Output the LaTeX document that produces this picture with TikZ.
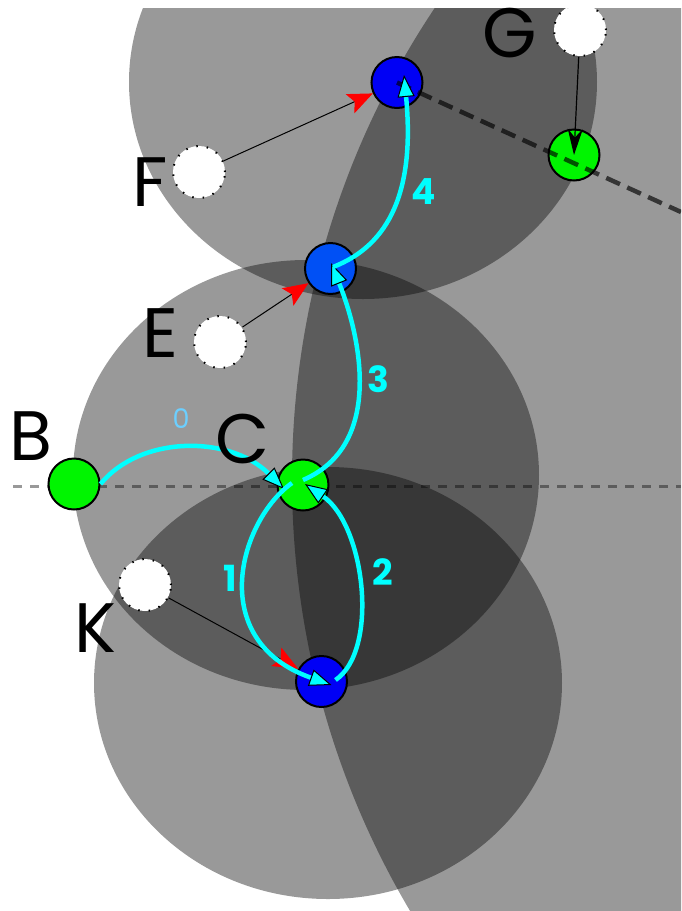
\documentclass[tikz,border=0pt]{standalone}
\usepackage{fontspec}
\setmainfont{Poppins}
\usetikzlibrary{arrows.meta,positioning}
\definecolor{goalgreen}{HTML}{00F500}
\definecolor{deepblue}{HTML}{0000F5}
\definecolor{midblue}{HTML}{0050F5}
\definecolor{trailcyan}{HTML}{00FFFF}
\definecolor{faintblue}{HTML}{6CCFFF}
\definecolor{tipred}{HTML}{FF0000}
\tikzset{
  zone/.style={fill=black, fill opacity=0.4},
  agent/.style={circle, draw=black, line width=2pt, minimum size=51pt, inner sep=0pt},
  goal/.style={agent, fill=goalgreen},
  reach/.style={agent, fill=deepblue},
  ghost/.style={circle, draw=black, fill=white, line width=2pt,
    dash pattern=on 1.5pt off 9pt, minimum size=52pt, inner sep=0pt},
  letter/.style={font=\fontsize{70}{70}\selectfont, inner sep=0pt},
  steplabel/.style={font=\bfseries\fontsize{36}{36}\selectfont, text=trailcyan, inner sep=0pt},
  trail/.style={draw=trailcyan, line width=4.5pt,
    -{Triangle[length=22pt, width=17pt, color=black, fill=trailcyan, line width=1pt 0]}},
  pointer/.style={draw=black, line width=1pt, -{Stealth[length=25pt, width=21pt, inset=5pt, tipred]}},
  dropline/.style={draw=black, line width=1.2pt, -{Stealth[length=26pt, width=15pt]}},
  axisline/.style={draw=black, draw opacity=0.4, line width=3pt, dash pattern=on 9pt off 8pt},
  heading/.style={draw=black, draw opacity=0.65, line width=4.5pt, dash pattern=on 15pt off 8pt}
}

\begin{document}
\begin{tikzpicture}[x=1pt, y=-1pt]
  \useasboundingbox (0,0) rectangle (681,911);
  \begin{scope}
    \clip (0,8) rectangle (681,911);
    % shaded zones
    \fill[zone] (1140,479) circle[radius=848];
    \fill[zone] (363,82) ellipse[x radius=234, y radius=217];
    \fill[zone] (306,475) ellipse[x radius=233, y radius=215];
    \fill[zone] (328,683) ellipse[x radius=234, y radius=216];

    \coordinate (axisL) at (13,486);
    \coordinate (axisR) at (681,486);
    \draw[axisline] (axisL) -- (axisR);

    % agents
    \node[goal] (startB) at (74,484) {};
    \node[goal] (hubC) at (303,485) {};
    \node[ghost] (ghostK) at (145,585) {};
    \node[reach] (reachK) at (321.5,681.5) {};
    \node[ghost] (ghostE) at (220,342) {};
    \node[reach, fill=midblue] (reachE) at (330.5,268.5) {};
    \node[ghost] (ghostF) at (199,172) {};
    \node[reach] (reachF) at (397,82.5) {};
    \node[ghost] (ghostG) at (580,30) {};
    \node[goal] (goalG) at (574,155) {};

    \draw[pointer] (ghostK) -- (reachK);
    \draw[pointer] (ghostE) -- (reachE);
    \draw[pointer] (ghostF) -- (reachF);
    \draw[dropline] (ghostG) -- (goalG.center);

    \coordinate (rim) at (681,212);
    \draw[heading] (reachF.center) -- (rim);

    % moves
    \draw[trail] (startB.east) .. controls +(40,-49) and +(-54,-54) .. ([shift={(-19,4)}]hubC.center);
    \draw[trail] ([shift={(-11,-2)}]hubC.center) .. controls +(-52,37) and +(-127,-45) .. ([shift={(10,3.5)}]reachK.center);
    \draw[trail] ([shift={(14,-1.5)}]reachK.center) .. controls +(44,-30) and +(60,41) .. ([shift={(2,-1)}]hubC.center);
    \draw[trail] ([shift={(0,-5)}]hubC.center) .. controls +(82,-35) and +(29,72) .. ([shift={(0.5,-5.5)}]reachE.center);
    \draw[trail] ([shift={(2.5,-1.5)}]reachE.center) .. controls +(57,-22) and +(11,115) .. ([shift={(7,-7.5)}]reachF.center);
  \end{scope}

  % labels
  \node[letter] (tagB) at (31,436) {B};
  \node[letter] (tagC) at (243,439) {C};
  \node[letter] (tagK) at (95,628) {K};
  \node[letter] (tagE) at (160,333) {E};
  \node[letter] (tagF) at (150,182) {F};
  \node[letter] (tagG) at (510,33) {G};
  \node[steplabel, text=faintblue, font=\fontsize{27}{27}\selectfont] (num0) at (181,419) {0};
  \node[steplabel] (num1) at (230,578) {1};
  \node[steplabel] (num2) at (383,572) {2};
  \node[steplabel] (num3) at (378,379) {3};
  \node[steplabel] (num4) at (424,192) {4};
\end{tikzpicture}
\end{document}
